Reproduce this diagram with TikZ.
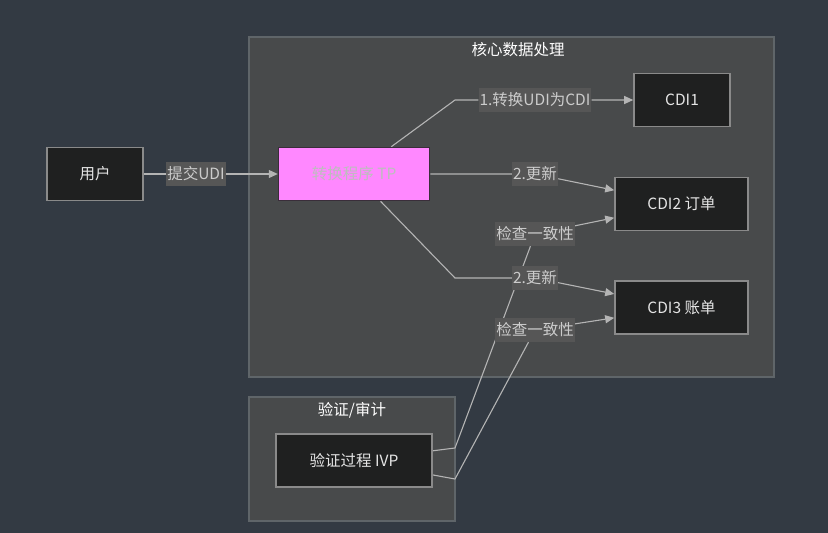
\documentclass[tikz,border=0pt]{standalone}
\usepackage{fontspec}
\setmainfont{Noto Sans CJK SC}
\usetikzlibrary{arrows.meta, positioning, backgrounds}
\definecolor{pageBg}{HTML}{333A43}
\definecolor{grpFill}{HTML}{484A4B}
\definecolor{grpLine}{HTML}{5F6569}
\definecolor{boxFill}{HTML}{1F2020}
\definecolor{boxLine}{HTML}{8A8A8A}
\definecolor{tpPink}{HTML}{FF88FF}
\definecolor{tpLine}{HTML}{3A2E3A}
\definecolor{tpText}{HTML}{BDBDBD}
\definecolor{edgeGray}{HTML}{B4B4B4}
\definecolor{lblFill}{HTML}{565656}
\definecolor{lblText}{HTML}{CCCCCC}

\pgfdeclarelayer{edges}
\pgfsetlayers{background,edges,main}

\begin{document}
\begin{tikzpicture}[
    x=1pt, y=-1pt,
    font=\fontsize{15.5}{18}\selectfont, >={Triangle[length=9pt,width=8pt]},
    box/.style={draw=boxLine, line width=1.6pt, fill=boxFill, text=white!90!black,
                minimum width=#1, minimum height=53pt, inner sep=0pt},
    grp/.style={draw=grpLine, line width=1.5pt, fill=grpFill},
    lbl/.style={fill=lblFill, text=lblText, inner sep=1pt, minimum height=24pt},
    flow/.style={->, draw=edgeGray, line width=1.1pt},
    title/.style={text=white},
  ]
    \useasboundingbox (0,0) rectangle (828,533);

    % Groups
    \begin{pgfonlayer}{background}
      \fill[pageBg] (0,0) rectangle (828,533);
      \draw[grp] (249,37) rectangle (774,377);
      \draw[grp] (249,397) rectangle (455,521);
    \end{pgfonlayer}
    \node[title] (coreT) at (518,50) {核心数据处理};
    \node[title] (auditT) at (352,410) {验证/审计};

    % Nodes
    \node[box=96pt] (user) at (95,174) {用户};
    \node[box=151pt, fill=tpPink, draw=tpLine, text=tpText] (tp) [right=134pt of user] {转换程序 TP};
    \node[box=96pt] (cdi1) at (682,100) {CDI1};
    \node[box=133pt] (cdi2) at (681.5,204) {CDI2 订单};
    \node[box=133pt] (cdi3) at (681.5,307.5) {CDI3 账单};
    \node[box=156pt] (ivp) [below=232pt of tp] {验证过程 IVP};

    % Edge labels
    \node[lbl] (lSubmit) at (196,174) {提交UDI};
    \node[lbl] (lConv) at (535,100) {1.转换UDI为CDI};
    \node[lbl] (lUpd2) at (535,174) {2.更新};
    \node[lbl] (lUpd3) at (535,278) {2.更新};
    \node[lbl] (lChk2) at (535,234) {检查一致性};
    \node[lbl] (lChk3) at (535,330) {检查一致性};

    % Bends
    \coordinate (bConv) at (455,100);
    \coordinate (bUpd2) at (455,174);
    \coordinate (bUpd3) at (455,278);
    \coordinate (bChk2) at (455,448);
    \coordinate (bChk3) at (455,479);

    \begin{pgfonlayer}{edges}
      \draw[flow] (user) -- (lSubmit) -- (tp);
      \draw[flow] (tp) -- (bConv) -- (lConv) -- (cdi1);
      \draw[flow] (tp) -- (bUpd2) -- (lUpd2) -- (cdi2);
      \draw[flow] (tp) -- (bUpd3) -- (lUpd3) -- (cdi3);
      \draw[flow] (ivp) -- (bChk2) -- (lChk2) -- (cdi2);
      \draw[flow] (ivp) -- (bChk3) -- (lChk3) -- (cdi3);
    \end{pgfonlayer}
  \end{tikzpicture}
\end{document}
